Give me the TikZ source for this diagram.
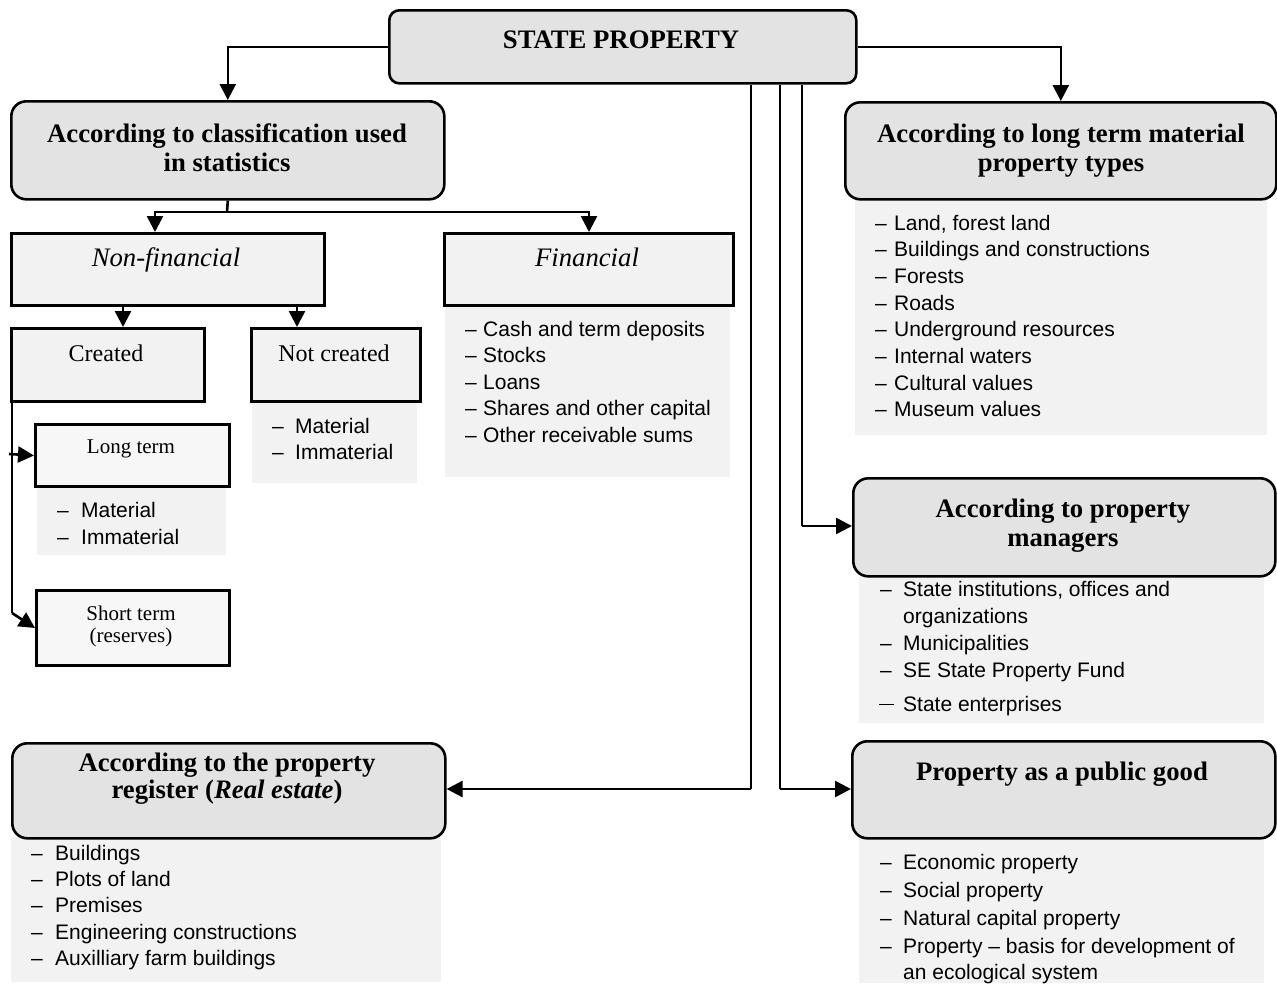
\documentclass[tikz,border=0pt]{standalone}
\usepackage{fontspec}
\setmainfont{Liberation Serif}
\newfontfamily\itemfont{Liberation Sans}
\usetikzlibrary{arrows.meta}

\definecolor{titlefill}{RGB}{227,227,227}
\definecolor{boxfill}{RGB}{242,242,242}
\definecolor{lightfill}{RGB}{247,247,247}
\definecolor{listfill}{RGB}{242,242,242}

\tikzset{
  titlebox/.style={draw, line width=2.6pt, rounded corners=15pt, fill=titlefill, inner sep=0pt, anchor=north west},
  plainbox/.style={draw, line width=3pt, fill=boxfill, inner sep=0pt, anchor=north west},
  lightbox/.style={plainbox, fill=lightfill},
  listbg/.style={fill=listfill, inner sep=0pt, anchor=north west},
  titletext/.style={font=\fontsize{26.7}{30}\selectfont\bfseries, anchor=base, inner sep=0pt},
  subtext/.style={font=\fontsize{26.7}{30}\selectfont\itshape, anchor=base, inner sep=0pt},
  midtext/.style={font=\fontsize{24}{28}\selectfont, anchor=base, inner sep=0pt},
  smalltext/.style={font=\fontsize{21}{24}\selectfont, anchor=base, inner sep=0pt},
  itemtext/.style={font=\itemfont\fontsize{21}{26}\selectfont, anchor=base west, inner sep=0pt},
  arr/.style={-{Triangle[length=16pt,width=16pt]}, line width=2.6pt},
  stem/.style={line width=2.6pt},
  feeder/.style={line width=1.3pt},
}

% box from (x1,y1) to (x2,y2), y measured downwards
\newcommand\boxnode[6]{%
  \node[#6, minimum width={(#4-#2)*1pt}, minimum height={(#5-#3)*1pt}] (#1) at (#2,#3) {};}
% one list entry: dash at x=#2, text at x=#3, baseline y=#4
\newcommand\itm[5]{%
  \node[itemtext] (#1-d) at (#2,#4) {–};
  \node[itemtext] (#1) at (#3,#4) {#5};}

\begin{document}
\begin{tikzpicture}[x=1pt, y=-1pt]
\useasboundingbox (0,0) rectangle (1277,983);

% ---- list backgrounds ----
\boxnode{ltmL}{855}{198}{1267}{435}{listbg}
\boxnode{finL}{445}{304}{730}{477}{listbg}
\boxnode{ncL}{252}{400}{417}{483}{listbg}
\boxnode{ltL}{37}{485}{226}{555}{listbg}
\boxnode{mgL}{859}{575}{1264}{723}{listbg}
\boxnode{pgL}{859}{837}{1264}{983}{listbg}
\boxnode{rgL}{11}{837}{441}{982}{listbg}

% ---- boxes ----
\boxnode{sp}{388}{9}{855}{82}{titlebox, rounded corners=10pt}
\boxnode{cls}{10}{100}{443}{198}{titlebox}
\boxnode{ltm}{844}{101}{1275}{198}{titlebox}
\boxnode{mg}{852}{477}{1274}{575}{titlebox}
\boxnode{pg}{851}{740}{1274}{837}{titlebox}
\boxnode{rg}{11}{742}{444}{837}{titlebox}

\boxnode{nf}{10}{232}{323}{304}{plainbox}
\boxnode{fin}{443}{232}{732}{304}{plainbox}
\boxnode{cr}{10}{327}{203}{400}{plainbox}
\boxnode{nc}{250}{327}{419}{400}{plainbox}
\boxnode{lt}{34}{423}{228}{485}{lightbox}
\boxnode{st}{35}{589}{228}{664}{lightbox}

% ---- connectors ----
\draw[arr] (sp.west) -| (cls.north);
\draw[arr] (sp.east) -| (ltm.north);

\coordinate (fork) at (227,212);
\draw[stem] (cls.south) -- (fork);
\draw[arr] (fork) -| (nf.north -| 155,0);
\draw[arr] (fork) -| (fin.north);

\draw[arr] (nf.south -| 123,0) -- (cr.north -| 123,0);
\draw[arr] (nf.south -| 297,0) -- (nc.north -| 297,0);

\coordinate (crTop) at (12,400);
\coordinate (crBot) at (12,613);
\coordinate (ltIn) at (9,454);
\draw[stem] (crTop) -- (crBot);
\draw[arr] (ltIn) -- (lt.west);
\draw[arr] (crBot) -- (st.west);

\coordinate (rgTurn) at (751,789);
\coordinate (pgTurn) at (780,789);
\coordinate (mgTurn) at (802,526);
\draw[feeder] (sp.south -| rgTurn) -- (rgTurn);
\draw[feeder] (sp.south -| pgTurn) -- (pgTurn);
\draw[feeder] (sp.south -| mgTurn) -- (mgTurn);
\draw[arr] (rgTurn) -- (rg.east |- rgTurn);
\draw[arr] (pgTurn) -- (pg.west |- pgTurn);
\draw[arr] (mgTurn) -- (mg.west |- mgTurn);

% ---- titles ----
\node[titletext] (spT) at (621,48) {STATE PROPERTY};
\node[titletext] (clsT1) at (227,142) {According to classification used};
\node[titletext] (clsT2) at (227,171) {in statistics};
\node[titletext] (ltmT1) at (1061,142) {According to long term material};
\node[titletext] (ltmT2) at (1061,171) {property types};
\node[titletext] (mgT1) at (1063,517) {According to property};
\node[titletext] (mgT2) at (1063,546) {managers};
\node[titletext] (pgT) at (1062,780) {Property as a public good};
\node[titletext] (rgT1) at (227,771) {According to the property};
\node[titletext] (rgT2) at (227,798) {register (\textit{Real estate})};

\node[subtext] (nfT) at (166,266) {Non-financial};
\node[subtext] (finT) at (587,266) {Financial};
\node[midtext] (crT) at (106,361) {Created};
\node[midtext] (ncT) at (334,361) {Not created};
\node[smalltext] (ltT) at (131,453) {Long term};
\node[smalltext] (stT1) at (131,620) {Short term};
\node[smalltext] (stT2) at (131,642) {(reserves)};

% ---- lists ----
\itm{ltm1}{875}{894}{230}{Land, forest land}
\itm{ltm2}{875}{894}{256.7}{Buildings and constructions}
\itm{ltm3}{875}{894}{283.4}{Forests}
\itm{ltm4}{875}{894}{310.1}{Roads}
\itm{ltm5}{875}{894}{336.8}{Underground resources}
\itm{ltm6}{875}{894}{363.5}{Internal waters}
\itm{ltm7}{875}{894}{390.2}{Cultural values}
\itm{ltm8}{875}{894}{416.9}{Museum values}

\itm{fin1}{465}{483}{336}{Cash and term deposits}
\itm{fin2}{465}{483}{362.5}{Stocks}
\itm{fin3}{465}{483}{389}{Loans}
\itm{fin4}{465}{483}{415.5}{Shares and other capital}
\itm{fin5}{465}{483}{442}{Other receivable sums}

\itm{nc1}{272}{295}{433}{Material}
\itm{nc2}{272}{295}{459}{Immaterial}

\itm{lt1}{57}{81}{517}{Material}
\itm{lt2}{57}{81}{544}{Immaterial}

\itm{mg1}{880}{903}{596}{State institutions, offices and}
\node[itemtext] (mg1b) at (903,623) {organizations};
\itm{mg2}{880}{903}{650}{Municipalities}
\itm{mg3}{880}{903}{677}{SE State Property Fund}
\node[itemtext] (mg4-d) at (879,711) {\rule[5.6pt]{15pt}{1.5pt}};
\node[itemtext] (mg4) at (903,711) {State enterprises};

\itm{pg1}{880}{903}{869}{Economic property}
\itm{pg2}{880}{903}{897}{Social property}
\itm{pg3}{880}{903}{925}{Natural capital property}
\itm{pg4}{880}{903}{953}{Property – basis for development of}
\node[itemtext] (pg4b) at (903,979) {an ecological system};

\itm{rg1}{31}{55}{860}{Buildings}
\itm{rg2}{31}{55}{886}{Plots of land}
\itm{rg3}{31}{55}{912}{Premises}
\itm{rg4}{31}{55}{939}{Engineering constructions}
\itm{rg5}{31}{55}{965}{Auxilliary farm buildings}

\end{tikzpicture}
\end{document}
